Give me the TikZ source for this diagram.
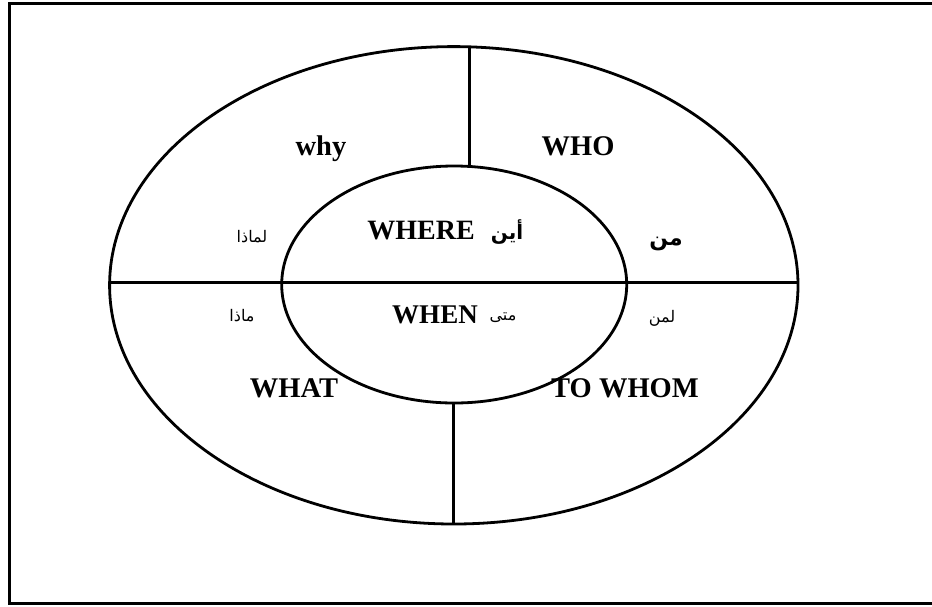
\documentclass[tikz,border=0pt]{standalone}
\usepackage{fontspec}
\setmainfont{Liberation Serif}
\newfontfamily\arabicfont[Script=Arabic]{DejaVu Sans}
\TeXXeTstate=1
\begin{document}
\begin{tikzpicture}[x=1pt,y=-1pt,
  shape line/.style={line width=2.8pt},
  en/.style={font=\bfseries\fontsize{28.5}{30}\selectfont, anchor=base, inner sep=0pt},
  enmid/.style={font=\bfseries\fontsize{27}{29}\selectfont, anchor=base, inner sep=0pt},
  ar/.style={font=\arabicfont\fontsize{16}{18}\selectfont, inner sep=0pt},
  arbig/.style={font=\arabicfont\bfseries\fontsize{20}{22}\selectfont, anchor=base, inner sep=0pt}]
\useasboundingbox (0,0) rectangle (932,606);
\fill[white] (0,0) rectangle (932,606);
% frame
\draw[line width=3pt] (9.5,3.5) -- (945,3.5);
\draw[line width=3pt] (9.5,603.5) -- (945,603.5);
\draw[line width=3pt] (9.5,2) -- (9.5,605);
% ellipses
\coordinate (oc) at (453.8,285.3);
\coordinate (ic) at (454.2,284.5);
\draw[shape line] (oc) ellipse [x radius=344.2, y radius=238.7];
\draw[shape line] (ic) ellipse [x radius=172.5, y radius=118.5];
% dividers
\coordinate (hl) at (109.8,282.7);
\coordinate (hr) at (797.8,282.7);
\draw[shape line] (hl) -- (hr);
\coordinate (vt1) at (469.3,47.2);
\coordinate (vt2) at (469.3,166.5);
\draw[shape line] (vt1) -- (vt2);
\coordinate (vb1) at (453.3,402.5);
\coordinate (vb2) at (453.3,523.8);
\draw[shape line] (vb1) -- (vb2);
% labels
\node[en] (why) at (321,155) {why};
\node[en] (who) at (578,155) {WHO};
\node[enmid,font=\bfseries\fontsize{28}{30}\selectfont] (where) at (421,239) {WHERE};
\node[arbig] (ayna) at (507,239) {\beginR أين\endR};
\node[ar] (limadha) at (252,237) {\beginR لماذا\endR};
\node[arbig,font=\arabicfont\bfseries\fontsize{22}{24}\selectfont] (man) at (666,245) {\beginR من\endR};
\node[enmid] (when) at (435,323) {WHEN};
\node[ar] (mata) at (503,318) {\beginR متى\endR};
\node[ar] (madha) at (242,316) {\beginR ماذا\endR};
\node[ar] (liman) at (662,318) {\beginR لمن\endR};
\node[en] (what) at (294,397) {WHAT};
\node[en] (towhom) at (625,397) {TO WHOM};
\end{tikzpicture}
\end{document}
